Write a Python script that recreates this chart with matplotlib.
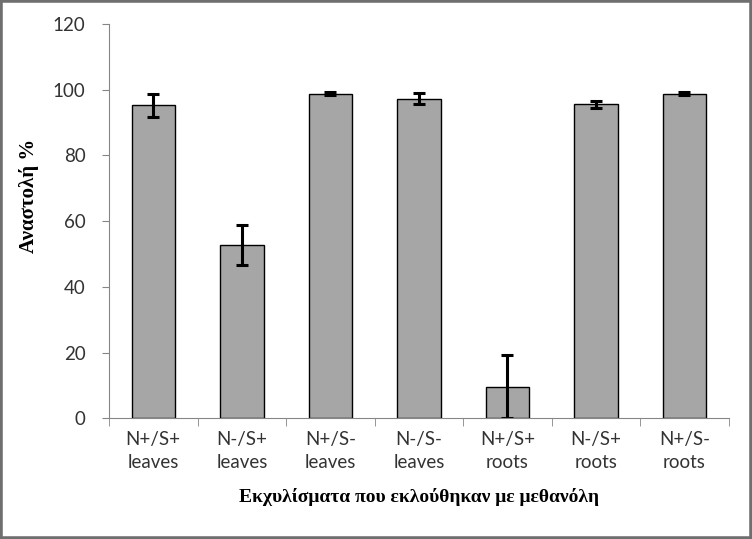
import matplotlib.pyplot as plt
import numpy as np
from matplotlib.patches import Rectangle

# data
labels = ['N+/S+\nleaves', 'N-/S+\nleaves', 'N+/S-\nleaves', 'N-/S-\nleaves',
          'N+/S+\nroots', 'N-/S+\nroots', 'N+/S-\nroots']
inhibition = [95.2, 52.7, 98.8, 97.3, 9.7, 95.5, 98.8]
errors = [3.5, 6.0, 0.5, 1.6, 9.5, 1.0, 0.5]
yticks = [0, 20, 40, 60, 80, 100, 120]

fig = plt.figure(figsize=(7.52, 5.39), dpi=100)
ax = fig.add_axes([0.145, 0.2236, 0.824, 0.732])

x = np.arange(len(labels))
ax.bar(x, inhibition, width=0.49, color='#a6a6a6', edgecolor='black', linewidth=1.0,
       yerr=errors, error_kw=dict(ecolor='black', elinewidth=2.2, capsize=4, capthick=2.2))

ax.set_ylim(0, 120)
ax.set_xlim(-0.5, len(labels) - 0.5)
ax.set_yticks(yticks)
ax.set_yticklabels([str(v) for v in yticks], family='Lato', fontsize=13.5, color='#333333')
ax.set_xticks(x)
ax.set_xticklabels(labels, family='Lato', fontsize=13.5, color='#333333', linespacing=1.45)
ax.tick_params(axis='x', length=0, pad=9)
ax.tick_params(axis='y', length=5, color='#868686', pad=12)
# boundary ticks between categories
ax.set_xticks(np.arange(len(labels) + 1) - 0.5, minor=True)
ax.tick_params(axis='x', which='minor', length=6, color='#868686')

for side in ['top', 'right']:
    ax.spines[side].set_visible(False)
for side in ['left', 'bottom']:
    ax.spines[side].set_color('#868686')

ax.set_ylabel('Αναστολή %', family='Liberation Serif', fontweight='bold', fontsize=15)
ax.yaxis.set_label_coords(-0.113, 0.564)
ax.set_xlabel('Εκχυλίσματα που εκλούθηκαν με μεθανόλη', family='Liberation Serif',
              fontweight='bold', fontsize=14, labelpad=12)

fig.patches.append(Rectangle((0, 0), 1, 1, transform=fig.transFigure, fill=False,
                             edgecolor='#6f6f6f', linewidth=4))

fig.savefig('out.png', dpi=100)
